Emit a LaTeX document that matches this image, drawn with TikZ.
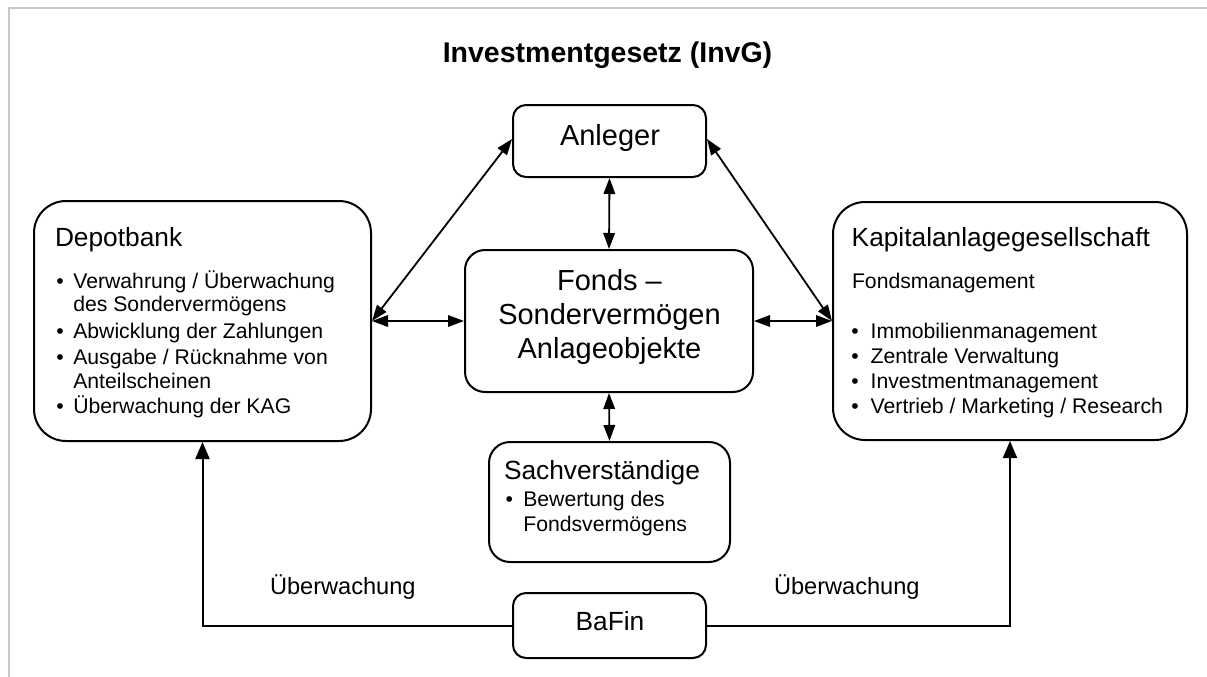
\documentclass[tikz,border=0pt]{standalone}
\usepackage{fontspec}
\setmainfont{Liberation Sans}
\usetikzlibrary{arrows.meta}
\newcommand{\myfs}[1]{\fontsize{#1pt}{#1pt}\selectfont}
\begin{document}
\begin{tikzpicture}[x=1pt,y=-1pt,
  rbox/.style={draw=black, line width=2pt, rounded corners=#1, inner sep=0pt, fill=white},
  lbl/.style={inner sep=0pt, outer sep=0pt, text=black},
  head/.style={lbl, font=\myfs{26.3}},
  big/.style={lbl, font=\myfs{29}},
  itm/.style={lbl, font=\myfs{21.2}, anchor=base west},
  bul/.style={lbl, font=\myfs{21.2}, anchor=base},
  dbl/.style={line width=1.8pt, {Triangle[length=16pt,width=11.5pt]}-{Triangle[length=16pt,width=11.5pt]}},
  sgl/.style={line width=2pt, -{Triangle[length=17pt,width=14pt]}},
  frameline/.style={draw=black!22, line width=2pt}]
\useasboundingbox (0,0) rectangle (1207,677);
\fill[white] (0,0) rectangle (1207,677);
\draw[frameline] (8.5,677) -- (8.5,8) -- (1207,8);

% title
\node[lbl, font=\bfseries\myfs{28.5}, anchor=base] (title) at (607.5,63) {Investmentgesetz (InvG)};

% boxes
\node[rbox=13pt, minimum width=193pt, minimum height=72pt] (anleger) at (609.5,141) {};
\node[rbox=20pt, minimum width=288pt, minimum height=142pt] (fonds) at (609,321) {};
\node[rbox=32pt, minimum width=337pt, minimum height=240pt] (depot) at (202.5,321) {};
\node[rbox=32pt, minimum width=354pt, minimum height=238pt] (kag) at (1010,321) {};
\node[rbox=21pt, minimum width=241pt, minimum height=120pt] (sachv) at (609.5,502) {};
\node[rbox=13pt, minimum width=193pt, minimum height=65pt] (bafin) at (609.5,625.5) {};

% Anleger
\node[big, anchor=base] (anlegert) at (610,145.7) {Anleger};

% Fonds
\node[big, anchor=base] (f1) at (609.5,290) {Fonds –};
\node[big, anchor=base] (f2) at (609.5,324.5) {Sondervermögen};
\node[big, anchor=base] (f3) at (609.5,358.5) {Anlageobjekte};

% Depotbank
\node[head, anchor=base west] (dh) at (55,246) {Depotbank};
\node[bul] (db1) at (60,288.5) {•};
\node[itm] (d1a) at (73.3,288.5) {Verwahrung / Überwachung};
\node[itm] (d1b) at (73.3,311.5) {des Sondervermögens};
\node[bul] (db2) at (60,338.5) {•};
\node[itm] (d2) at (73.3,338.5) {Abwicklung der Zahlungen};
\node[bul] (db3) at (60,364.5) {•};
\node[itm] (d3a) at (73.3,364.5) {Ausgabe / Rücknahme von};
\node[itm] (d3b) at (73.3,388) {Anteilscheinen};
\node[bul] (db4) at (60,413) {•};
\node[itm] (d4) at (73.3,413) {Überwachung der KAG};

% Kapitalanlagegesellschaft
\node[head, anchor=base west] (kh) at (851.7,246) {Kapitalanlagegesellschaft};
\node[itm] (kf) at (852,288.3) {Fondsmanagement};
\node[bul] (kb1) at (855,338.3) {•};
\node[itm] (k1) at (870.7,338.3) {Immobilienmanagement};
\node[bul] (kb2) at (855,363.3) {•};
\node[itm] (k2) at (870.7,363.3) {Zentrale Verwaltung};
\node[bul] (kb3) at (855,388.3) {•};
\node[itm] (k3) at (870.7,388.3) {Investmentmanagement};
\node[bul] (kb4) at (855,413.3) {•};
\node[itm] (k4) at (870.7,413.3) {Vertrieb / Marketing / Research};

% Sachverstaendige
\node[head, anchor=base west] (sh) at (504,479.3) {Sachverständige};
\node[bul] (sb1) at (509.3,506.7) {•};
\node[itm] (s1a) at (523.3,506.7) {Bewertung des};
\node[itm] (s1b) at (523.3,531.7) {Fondsvermögens};

% BaFin
\node[head, anchor=base] (bafint) at (610,630.7) {BaFin};

% Ueberwachung labels
\node[lbl, font=\myfs{23.6}, anchor=base west] (ul) at (270,594) {Überwachung};
\node[lbl, font=\myfs{23.6}, anchor=base west] (ur) at (774,594) {Überwachung};

% connectors
\draw[dbl] (anleger.south) -- (fonds.north);
\draw[dbl] (fonds.south) -- (sachv.north);
\draw[dbl] (depot.east) -- (fonds.west);
\draw[dbl] (fonds.east) -- (kag.west);
\draw[dbl] ([yshift=2pt]anleger.west) -- (depot.east);
\draw[dbl] ([yshift=2pt]anleger.east) -- (kag.west);
\draw[sgl] (bafin.west) -| (depot.south);
\draw[sgl] (bafin.east) -| (kag.south);
\end{tikzpicture}
\end{document}
